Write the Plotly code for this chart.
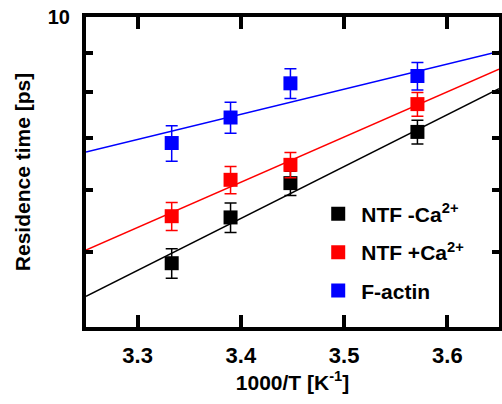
import plotly.graph_objects as go
import numpy as np

# Data
x_vals = [3.333, 3.390, 3.448, 3.571]
ntf_minus = [4.83, 5.53, 6.12, 7.12]
ntf_minus_err = [0.21, 0.24, 0.22, 0.25]
ntf_plus = [5.55, 6.18, 6.46, 7.73]
ntf_plus_err = [0.23, 0.25, 0.24, 0.27]
factin = [6.89, 7.43, 8.22, 8.40]
factin_err = [0.36, 0.34, 0.36, 0.34]

fit_x = [3.25, 3.65]
fit_minus = [4.38, 8.09]
fit_plus = [5.02, 8.57]
fit_factin = [6.71, 9.03]

names = ["NTF -Ca<sup>2+</sup>", "NTF +Ca<sup>2+</sup>", "F-actin"]
colors = ["#000000", "#ff0000", "#0000ff"]

FONT = "Liberation Sans"

fig = go.Figure()
for fy, c in zip([fit_minus, fit_plus, fit_factin], colors):
    fig.add_trace(go.Scatter(x=fit_x, y=fy, mode="lines", line=dict(color=c, width=1.5),
                             showlegend=False, hoverinfo="skip"))

for i, (yv, ev, c, n) in enumerate(zip([ntf_minus, ntf_plus, factin],
                                        [ntf_minus_err, ntf_plus_err, factin_err], colors, names)):
    fig.add_trace(go.Scatter(x=x_vals, y=yv, mode="markers", name="<b>" + n + "</b>",
                             marker=dict(symbol="square", size=14, color=c),
                             error_y=dict(type="data", array=ev, color=c, thickness=1.5, width=6),
                             legendgroup=str(i)))

axis_common = dict(showline=True, linecolor="black", linewidth=4, mirror="ticks",
                   ticks="inside", tickcolor="black", showgrid=False, zeroline=False,
                   automargin=False)

fig.update_xaxes(range=[3.25, 3.65], tickvals=[3.3, 3.4, 3.5, 3.6],
                 ticktext=["<b>3.3</b>", "<b>3.4</b>", "<b>3.5</b>", "<b>3.6</b>"],
                 ticklen=12, tickwidth=4, ticklabelstandoff=6,
                 tickfont=dict(family=FONT, size=22, color="black"),
                 title=dict(text="<b>1000/T [K<sup>-1</sup>]</b>", font=dict(family=FONT, size=21, color="black"), standoff=6),
                 **axis_common)
fig.update_yaxes(type="log", range=[np.log10(4), 1], tickvals=[5, 6, 7, 8, 9, 10],
                 ticktext=["", "", "", "", "", "<b>10</b>"], ticklen=7, tickwidth=4, ticklabelstandoff=8,
                 tickfont=dict(family=FONT, size=20, color="black"),
                 title=dict(text="<b>Residence time [ps]</b>", font=dict(family=FONT, size=21, color="black"), standoff=12),
                 **axis_common)

fig.update_layout(
    width=502, height=404,
    margin=dict(l=86, r=3, t=17, b=77),
    plot_bgcolor="white", paper_bgcolor="white",
    legend=dict(x=0.555, y=0.43, xanchor="left", yanchor="top", bgcolor="rgba(0,0,0,0)",
                font=dict(family=FONT, size=21, color="black"),
                tracegroupgap=8, itemwidth=36),
    showlegend=True,
)

fig.write_html("out.html", config={"displayModeBar": False},
               post_script="document.body.style.margin='0';document.body.style.overflow='hidden';")
